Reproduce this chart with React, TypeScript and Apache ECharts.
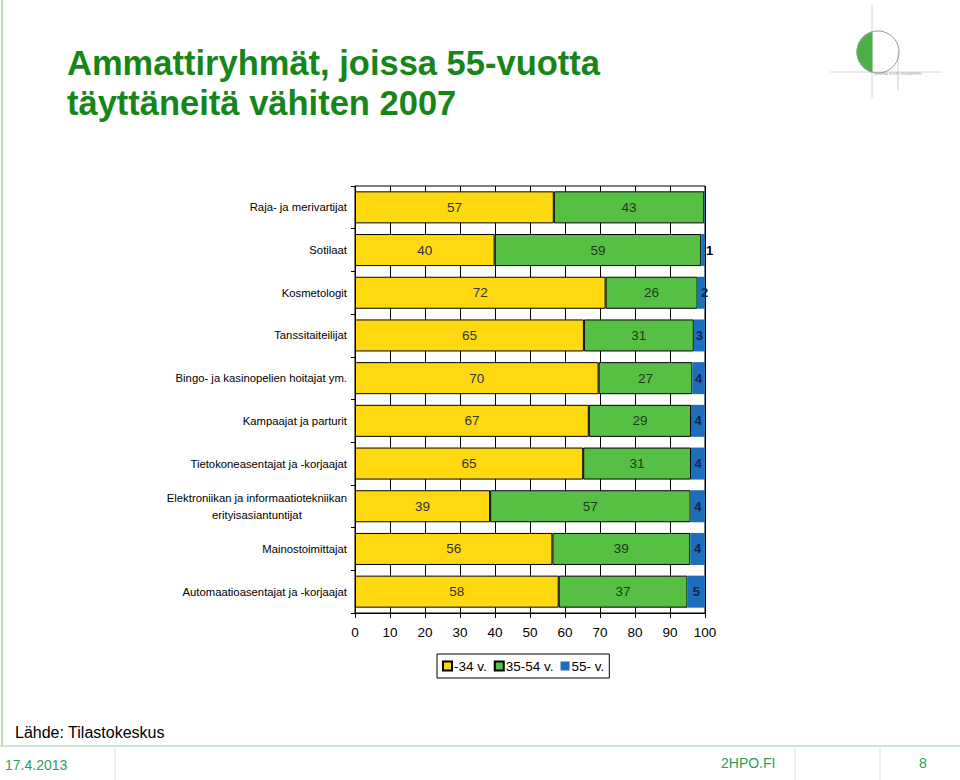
import React, { useEffect, useRef } from "react";
import * as echarts from "echarts";

const categories = [
  "Raja- ja merivartijat",
  "Sotilaat",
  "Kosmetologit",
  "Tanssitaiteilijat",
  "Bingo- ja kasinopelien hoitajat ym.",
  "Kampaajat ja parturit",
  "Tietokoneasentajat ja -korjaajat",
  "Elektroniikan ja informaatiotekniikan\nerityisasiantuntijat",
  "Mainostoimittajat",
  "Automaatioasentajat ja -korjaajat",
];
// shares (%); labels show rounded values
const young = [56.8, 39.9, 71.6, 65.4, 69.6, 66.8, 65.2, 38.6, 56.4, 58.2];
const middle = [43.0, 59.0, 26.3, 31.4, 26.8, 29.2, 30.8, 57.3, 39.4, 36.8];
const old = [0.2, 1.1, 2.1, 3.2, 3.6, 4.0, 4.0, 4.1, 4.2, 5.0];
const seriesNames = ["-34 v.", "35-54 v.", "55- v."];
const xTicks = [0, 10, 20, 30, 40, 50, 60, 70, 80, 90, 100];

const YELLOW = "#FFD90F";
const GREEN = "#55C043";
const BLUE = "#1E6EBE";
const FOOT = "#2E9E5E";

function circleSegment(cx: number, cy: number, r: number, chordX: number) {
  const pts: number[][] = [];
  const a0 = Math.acos((chordX - cx) / r);
  const steps = 40;
  for (let i = 0; i <= steps; i++) {
    const a = a0 + ((2 * Math.PI - 2 * a0) * i) / steps;
    pts.push([cx + r * Math.cos(a), cy - r * Math.sin(a)]);
  }
  return pts;
}

const rounded = (p: any) => String(Math.round(p.value));

export default function App() {
  const ref = useRef<HTMLDivElement>(null);
  useEffect(() => {
    if (!ref.current) return;
    const chart = echarts.init(ref.current, null, { renderer: "svg" });
    const font = "Arial, 'Liberation Sans', sans-serif";
    const oldData = old.map((v) => {
      const r = Math.round(v);
      if (r === 0) return { value: v, label: { show: false } };
      if (r === 1)
        return { value: v, label: { show: true, position: "right", distance: 1, color: "#000" } };
      if (r === 2)
        return { value: v, label: { show: true, position: "right", distance: -4 } };
      return { value: v };
    });
    chart.setOption({
      animation: false,
      textStyle: { fontFamily: font },
      grid: {
        left: 355,
        right: 255,
        top: 186,
        bottom: 167,
        show: true,
        borderColor: "#000",
        borderWidth: 1,
      },
      legend: {
        data: seriesNames,
        left: 437,
        top: 654,
        width: 176,
        itemWidth: 9,
        itemHeight: 9,
        itemGap: 7,
        padding: [5, 5, 5, 5],
        borderColor: "#000",
        borderWidth: 1,
        icon: "rect",
        textStyle: { fontSize: 13.5, color: "#000", padding: [0, 0, 0, -3] },
      },
      xAxis: {
        type: "value",
        min: 0,
        max: 100,
        interval: 10,
        axisLine: { show: true, lineStyle: { color: "#000" } },
        axisTick: { show: true, length: 5, lineStyle: { color: "#000" } },
        axisLabel: {
          fontSize: 13.5,
          color: "#000",
          margin: 12,
          formatter: (v: number) => (xTicks.includes(v) ? String(v) : ""),
        },
        splitLine: { show: true, lineStyle: { color: "#000", width: 1 } },
      },
      yAxis: {
        type: "category",
        data: categories,
        inverse: true,
        axisLine: { show: true, lineStyle: { color: "#000" } },
        axisTick: { show: true, length: 4, lineStyle: { color: "#000" } },
        axisLabel: {
          fontSize: 11.3,
          color: "#000",
          margin: 8,
          lineHeight: 17,
          formatter: (v: string) =>
            v
              .split("\n")
              .map((s) => `{c|${s}}`)
              .join("\n"),
          rich: { c: { align: "center", fontSize: 11.3, color: "#000", lineHeight: 17 } },
        },
      },
      series: [
        {
          name: seriesNames[0],
          type: "bar",
          stack: "all",
          data: young,
          barCategoryGap: "25%",
          itemStyle: { color: YELLOW, borderColor: "#000", borderWidth: 1 },
          label: { show: true, position: "inside", fontSize: 13.5, color: "#333", formatter: rounded },
        },
        {
          name: seriesNames[1],
          type: "bar",
          stack: "all",
          data: middle,
          itemStyle: { color: GREEN, borderColor: "#000", borderWidth: 1 },
          label: { show: true, position: "inside", fontSize: 13.5, color: "#1c3a1c", formatter: rounded },
        },
        {
          name: seriesNames[2],
          type: "bar",
          stack: "all",
          data: oldData,
          itemStyle: { color: BLUE, borderColor: BLUE, borderWidth: 0 },
          label: {
            show: true,
            position: "inside",
            fontSize: 13,
            fontWeight: "bold",
            color: "#14224f",
            formatter: rounded,
          },
        },
      ],
      graphic: [
        { type: "line", shape: { x1: 2, y1: 0, x2: 2, y2: 746 }, style: { stroke: "#a9cf9a", lineWidth: 1.5 } },
        { type: "line", shape: { x1: 0, y1: 746, x2: 960, y2: 746 }, style: { stroke: "#b5e0c4", lineWidth: 1.5 } },
        { type: "line", shape: { x1: 115, y1: 748, x2: 115, y2: 780 }, style: { stroke: "#cfe9d8", lineWidth: 1 } },
        { type: "line", shape: { x1: 795, y1: 748, x2: 795, y2: 780 }, style: { stroke: "#cfe9d8", lineWidth: 1 } },
        { type: "line", shape: { x1: 880, y1: 748, x2: 880, y2: 780 }, style: { stroke: "#cfe9d8", lineWidth: 1 } },
        {
          type: "text",
          left: 5,
          top: 758,
          style: { text: "17.4.2013", fontSize: 14, fill: FOOT, fontFamily: font },
        },
        {
          type: "text",
          left: 721,
          top: 756,
          style: { text: "2HPO.FI", fontSize: 14, fill: FOOT, fontFamily: font },
        },
        {
          type: "text",
          left: 919,
          top: 756,
          style: { text: "8", fontSize: 14, fill: FOOT, fontFamily: font },
        },
        {
          type: "text",
          left: 15,
          top: 724,
          style: { text: "Lähde: Tilastokeskus", fontSize: 16, fill: "#000", fontFamily: font },
        },
        {
          type: "text",
          left: 67,
          top: 43,
          style: {
            text: "Ammattiryhmät, joissa 55-vuotta\ntäyttäneitä vähiten 2007",
            fontSize: 34.5,
            fontWeight: "bold",
            lineHeight: 40,
            fill: "#16861a",
            fontFamily: font,
          },
        },
        { type: "line", shape: { x1: 872, y1: 5, x2: 872, y2: 98 }, style: { stroke: "#d6d6d6", lineWidth: 1 } },
        { type: "line", shape: { x1: 830, y1: 72, x2: 942, y2: 72 }, style: { stroke: "#d6d6d6", lineWidth: 1 } },
        { type: "line", shape: { x1: 898, y1: 52, x2: 898, y2: 90 }, style: { stroke: "#cfcfcf", lineWidth: 1 } },
        {
          type: "polygon",
          shape: { points: circleSegment(878, 52, 21, 872) },
          style: { fill: "#4caf47", stroke: "#4caf47" },
        },
        {
          type: "circle",
          shape: { cx: 878, cy: 52, r: 21 },
          style: { fill: "none", stroke: "#9a9a9a", lineWidth: 1 },
        },
        {
          type: "text",
          left: 874,
          top: 72,
          style: { text: "GENERAL HYDRO ENGINEERING", fontSize: 3, fill: "#a0a0a0", fontFamily: font },
        },
      ],
    });
    return () => chart.dispose();
  }, []);
  return (
    <div
      ref={ref}
      style={{ position: "absolute", left: 0, top: 0, width: 960, height: 780, background: "#fff" }}
    />
  );
}
